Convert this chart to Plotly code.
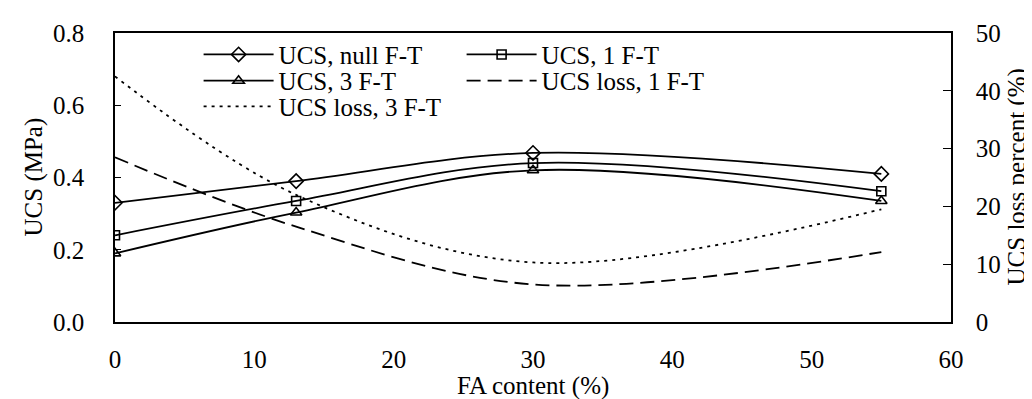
import plotly.graph_objects as go

fa_content = [0, 13, 30, 55]
ucs_null = [0.33, 0.39, 0.468, 0.41]
ucs_1ft = [0.24, 0.335, 0.44, 0.362]
ucs_3ft = [0.19, 0.303, 0.42, 0.335]
loss_1ft = [28.5, 16.5, 6.5, 12.1]
loss_3ft = [42.5, 22.0, 10.3, 19.5]

FONT = "Liberation Serif"
FS = 25
BLACK = "black"
LW = 1.8

fig = go.Figure()
fig.add_trace(go.Scatter(x=fa_content, y=ucs_null, name="UCS, null F-T", mode="lines+markers", legend="legend",
                         line=dict(color=BLACK, width=LW, shape="spline"),
                         marker=dict(symbol="diamond-open", size=11, color=BLACK, line=dict(width=1.6))))
fig.add_trace(go.Scatter(x=fa_content, y=ucs_1ft, name="UCS, 1 F-T", mode="lines+markers", legend="legend",
                         line=dict(color=BLACK, width=LW, shape="spline"),
                         marker=dict(symbol="square-open", size=9, color=BLACK, line=dict(width=1.6))))
fig.add_trace(go.Scatter(x=fa_content, y=ucs_3ft, name="UCS, 3 F-T", mode="lines+markers", legend="legend2",
                         line=dict(color=BLACK, width=LW, shape="spline"),
                         marker=dict(symbol="triangle-up-open", size=10, color=BLACK, line=dict(width=1.6))))
fig.add_trace(go.Scatter(x=fa_content, y=loss_1ft, name="UCS loss, 1 F-T", mode="lines", yaxis="y2",
                         legend="legend2",
                         line=dict(color=BLACK, width=LW, shape="spline", dash="14px,7px")))
fig.add_trace(go.Scatter(x=fa_content, y=loss_3ft, name="UCS loss, 3 F-T", mode="lines", yaxis="y2",
                         legend="legend3",
                         line=dict(color=BLACK, width=LW, shape="spline", dash="3px,5px")))

leg_common = dict(orientation="h", xanchor="left", yanchor="middle",
                  entrywidth=178, entrywidthmode="pixels", itemwidth=70,
                  bgcolor="rgba(0,0,0,0)", font=dict(family=FONT, size=FS, color=BLACK),
                  traceorder="normal")

fig.update_layout(
    width=1032, height=399,
    margin=dict(l=107, r=89, t=20, b=85),
    paper_bgcolor="white", plot_bgcolor="white",
    font=dict(family=FONT, size=FS, color=BLACK),
    showlegend=True,
    legend=dict(x=0.10, y=0.925, **leg_common),
    legend2=dict(x=0.10, y=0.834, **leg_common),
    legend3=dict(x=0.10, y=0.745, **leg_common),
    xaxis=dict(range=[0, 60], dtick=10, tick0=0, showline=True, linecolor=BLACK, linewidth=1.5,
               mirror=True, ticks="", showgrid=False, zeroline=False, ticklabelstandoff=14),
    yaxis=dict(range=[0, 0.8], dtick=0.2, tickformat=".1f", showline=True, linecolor=BLACK, linewidth=1.5,
               ticks="inside", ticklen=6, tickcolor=BLACK, showgrid=False, zeroline=False,
               ticklabelstandoff=24),
    yaxis2=dict(range=[0, 50], dtick=10, overlaying="y", side="right", showline=True, linecolor=BLACK,
                linewidth=1.5, ticks="inside", ticklen=8, tickcolor=BLACK, showgrid=False, zeroline=False,
                ticklabelstandoff=18),
    annotations=[
        dict(text="UCS (MPa)", xref="paper", yref="paper", x=0, y=0.5, xshift=-82, textangle=-90,
             showarrow=False, xanchor="center", yanchor="middle", font=dict(size=FS)),
        dict(text="UCS loss percent (%)", xref="paper", yref="paper", x=1, y=0.5, xshift=65, textangle=-90,
             showarrow=False, xanchor="center", yanchor="middle", font=dict(size=FS)),
        dict(text="FA content (%)", xref="paper", yref="paper", x=0.5, y=0, yshift=-64,
             showarrow=False, xanchor="center", yanchor="middle", font=dict(size=FS)),
    ],
)

fig.write_html("out.html")
